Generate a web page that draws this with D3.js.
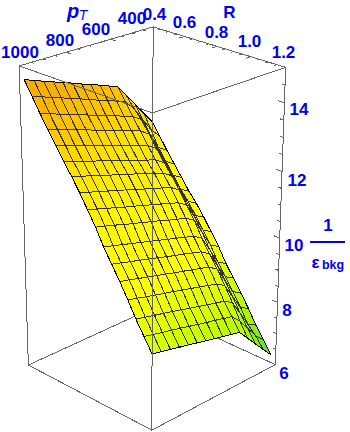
<!DOCTYPE html>
<html><head><meta charset="utf-8"><style>html,body{margin:0;padding:0;background:#fff}svg{display:block}text{font-family:"Liberation Sans",Arial,sans-serif;font-weight:700;fill:#0000ee}</style>
<script src="https://cdn.jsdelivr.net/npm/d3@7"></script></head><body><svg id="c" width="350" height="432"></svg>
<script>
const pTGrid=[1000,959,918,877,836,795,754,713,672,631,590,549,508,467,425];
const RGrid=[0.43,0.478,0.526,0.574,0.623,0.671,0.719,0.767,0.815,0.863,0.911,0.959,1.008,1.056,1.104,1.152,1.2];
const row0=[14.66,14.56,14.45,14.35,14.25,14.15,14.04,13.94,13.84,13.73,13.63,13.27,12.92,12.56,12.21];
const row1=[14.27,14.17,14.07,13.97,13.87,13.77,13.66,13.56,13.46,13.36,13.26,12.96,12.55,12.14,11.85];
const row2=[13.87,13.77,13.67,13.58,13.48,13.38,13.28,13.18,13.09,12.99,12.89,12.71,12.19,11.67,11.49];
const row3=[13.50,13.40,13.31,13.21,13.12,13.02,12.92,12.83,12.73,12.64,12.54,12.36,11.85,11.33,11.15];
const row4=[13.12,13.03,12.93,12.84,12.74,12.65,12.56,12.46,12.37,12.27,12.18,12.00,11.49,10.99,10.81];
const row5=[12.75,12.66,12.57,12.48,12.39,12.30,12.20,12.11,12.02,11.93,11.84,11.66,11.15,10.65,10.47];
const row6=[12.42,12.33,12.24,12.15,12.06,11.98,11.89,11.80,11.71,11.62,11.53,11.35,10.85,10.36,10.18];
const row7=[12.05,11.96,11.88,11.79,11.70,11.62,11.53,11.44,11.35,11.27,11.18,11.01,10.51,10.01,9.84];
const row8=[11.65,11.57,11.48,11.40,11.31,11.23,11.15,11.06,10.98,10.89,10.81,10.64,10.15,9.65,9.48];
const row9=[11.25,11.17,11.09,11.00,10.92,10.84,10.76,10.68,10.59,10.51,10.43,10.26,9.77,9.28,9.11];
const row10=[10.78,10.70,10.62,10.54,10.46,10.38,10.30,10.22,10.14,10.06,9.98,9.81,9.33,8.84,8.67];
const row11=[10.38,10.30,10.22,10.15,10.07,9.99,9.91,9.83,9.76,9.68,9.60,9.43,8.95,8.48,8.31];
const row12=[9.98,9.91,9.83,9.76,9.68,9.61,9.53,9.46,9.38,9.31,9.23,9.06,8.58,8.11,7.94];
const row13=[9.55,9.48,9.40,9.33,9.26,9.19,9.11,9.04,8.97,8.89,8.82,8.65,8.18,7.72,7.55];
const row14=[9.10,9.03,8.96,8.89,8.82,8.75,8.67,8.60,8.53,8.46,8.39,8.23,7.76,7.29,7.13];
const row15=[8.70,8.63,8.56,8.50,8.43,8.36,8.29,8.22,8.16,8.09,8.02,7.76,7.40,7.04,6.77];
const row16=[8.30,8.23,8.17,8.10,8.04,7.97,7.90,7.84,7.77,7.71,7.64,7.33,7.02,6.71,6.40];
const zRows=[row0,row1,row2,row3,row4,row5,row6,row7,row8,row9,row10,row11,row12,row13,row14,row15,row16];
const pTLabels=["400","600","800","1000"];
const RLabels=["0.4","0.6","0.8","1.0","1.2"];
const zLabels=["6","8","10","12","14"];

const sx=d3.scaleLinear().domain([400,1000]).range([0,1]);
const sy=d3.scaleLinear().domain([0.4,1.2]).range([0,1]);
const sz=d3.scaleLinear().domain([6,15]).range([0,1]);
const color=d3.scaleLinear().domain([6.4,7.5,8.4,9.6,11,12.4,13.4,14.7])
  .range(["#50dc3c","#b0f800","#d8ff00","#ffff00","#fff800","#ffe400","#ffc400","#f6a400"]);

const cal=[[0,0,1,153,27],[0,0,0,153,308],[1,0,1,19,66],[1,0,0,28,365],[0,1,1,285.5,67],[0,1,0,275,365],[1,1,1,153,113],[1,1,0,152,430]];
function solve(A,B){const n=A.length,M=A.map((r,i)=>[...r,B[i]]);
  for(let i=0;i<n;i++){let p=i;for(let k=i+1;k<n;k++)if(Math.abs(M[k][i])>Math.abs(M[p][i]))p=k;[M[i],M[p]]=[M[p],M[i]];
    for(let k=0;k<n;k++)if(k!==i){const f=M[k][i]/M[i][i];for(let m=i;m<=n;m++)M[k][m]-=f*M[i][m];}}
  return M.map((r,i)=>r[n]/r[i]);}
const rows=[],rhs=[];
cal.forEach(([a,b,c,X,Y])=>{
  rows.push([1,a,b,c,0,0,0,0,-X*a,-X*b,-X*c]);rhs.push(X);
  rows.push([0,0,0,0,1,a,b,c,-Y*a,-Y*b,-Y*c]);rhs.push(Y);});
const N=Array.from({length:11},(_,i)=>Array.from({length:11},(_,j)=>d3.sum(rows,r=>r[i]*r[j])));
const V=Array.from({length:11},(_,i)=>d3.sum(rows,(r,k)=>r[i]*rhs[k]));
const P=solve(N,V);
function proj(a,b,c){const w=1+P[8]*a+P[9]*b+P[10]*c;
  return [(P[0]+P[1]*a+P[2]*b+P[3]*c)/w,(P[4]+P[5]*a+P[6]*b+P[7]*c)/w,w];}
const pt=(p,r,z)=>proj(sx(p),sy(r),sz(z));

const svg=d3.select("#c");
const line=d3.line();
function seg(g,a,b,col,wd){g.append("line").attr("x1",a[0]).attr("y1",a[1]).attr("x2",b[0]).attr("y2",b[1])
  .attr("stroke",col).attr("stroke-width",wd);}
const gray="#666";
const back=svg.append("g").attr("shape-rendering","crispEdges");
const cn=(p,r,z)=>pt(p,r,z);
[[[400,.4,6],[400,.4,15]],[[400,.4,6],[1000,.4,6]],[[400,.4,6],[400,1.2,6]],
 [[400,.4,15],[1000,.4,15]],[[400,.4,15],[400,1.2,15]],
 [[1000,.4,6],[1000,.4,15]],[[400,1.2,6],[400,1.2,15]]].forEach(([a,b])=>seg(back,cn(...a),cn(...b),gray,1));

sx.ticks(15).forEach(p=>{const maj=p%200===0;
  seg(back,pt(p,.4,15),pt(p,.4+(maj?.032:.018),15),gray,1);});
sy.ticks(16).forEach(r=>{const maj=Math.abs(r*5-Math.round(r*5))<1e-6;
  seg(back,pt(400,r,15),pt(400+(maj?24:14),r,15),gray,1);});
sz.ticks(18).forEach(z=>{const maj=z%2===0;
  seg(back,pt(400,1.2,z),pt(400,1.2-(maj?.035:.02),z),gray,1);});

const cells=[];
for(let i=0;i<RGrid.length-1;i++)for(let j=0;j<pTGrid.length-1;j++){
  const c=[[i,j],[i+1,j],[i+1,j+1],[i,j+1]].map(([a,b])=>pt(pTGrid[b],RGrid[a],zRows[a][b]));
  cells.push({c,w:d3.mean(c,d=>d[2]),z:(zRows[i][j]+zRows[i+1][j]+zRows[i+1][j+1]+zRows[i][j+1])/4});}
cells.sort((a,b)=>b.w-a.w);
svg.append("g").attr("shape-rendering","crispEdges").selectAll("path").data(cells).join("path")
  .attr("d",d=>line.curve(d3.curveLinearClosed)(d.c.map(q=>[q[0],q[1]])))
  .attr("fill",d=>color(d.z)).attr("stroke","#333").attr("stroke-width",1);
line.curve(d3.curveLinear);
const edge=svg.append("g").attr("shape-rendering","crispEdges").attr("fill","none").attr("stroke","#000");
const nI=RGrid.length,nJ=pTGrid.length;
const edges=[d3.range(nJ).map(j=>pt(pTGrid[j],RGrid[0],zRows[0][j])),
 d3.range(nI).map(i=>pt(pTGrid[0],RGrid[i],zRows[i][0])),
 d3.range(nJ).map(j=>pt(pTGrid[j],RGrid[nI-1],zRows[nI-1][j])),
 d3.range(nI).map(i=>pt(pTGrid[nJ-1],RGrid[i],zRows[i][nJ-1]))];
edges.forEach(e=>edge.append("path").attr("d",line(e.map(q=>[q[0],q[1]]))));

const front=svg.append("g").attr("shape-rendering","crispEdges");
[[[1000,1.2,6],[1000,1.2,15]],[[1000,.4,15],[1000,1.2,15]],[[400,1.2,15],[1000,1.2,15]],
 [[1000,.4,6],[1000,1.2,6]],[[400,1.2,6],[1000,1.2,6]]].forEach(([a,b])=>seg(front,cn(...a),cn(...b),gray,1));

function label(x,y,s,fs,anchor){return svg.append("text").attr("x",x).attr("y",y).attr("font-size",fs||17).attr("text-anchor",anchor||"middle").text(s);}
const pTPos=[[132,24],[96,35],[60,46],[20,58]];
pTLabels.forEach((s,i)=>label(pTPos[i][0],pTPos[i][1],s));
const RPos=[[154.5,20],[184.5,28],[216.5,38],[249.5,47],[283.5,58]];
RLabels.forEach((s,i)=>label(RPos[i][0],RPos[i][1],s));
const zPos=[[284,379],[287,316],[294,251],[297,186],[299,115]];
zLabels.forEach((s,i)=>label(zPos[i][0],zPos[i][1],s));
label(229.5,18,"R");
label(73,18,"p",20).attr("font-style","italic");
label(83,20,"T",14).attr("font-style","italic").style("font-weight",400);
label(328,231,"1");
svg.append("line").attr("x1",310).attr("x2",345).attr("y1",242).attr("y2",242).attr("stroke","#0000ee").attr("stroke-width",2);
label(315.5,268,"ε",17);
label(333,269,"bkg",12.5);
</script></body></html>
